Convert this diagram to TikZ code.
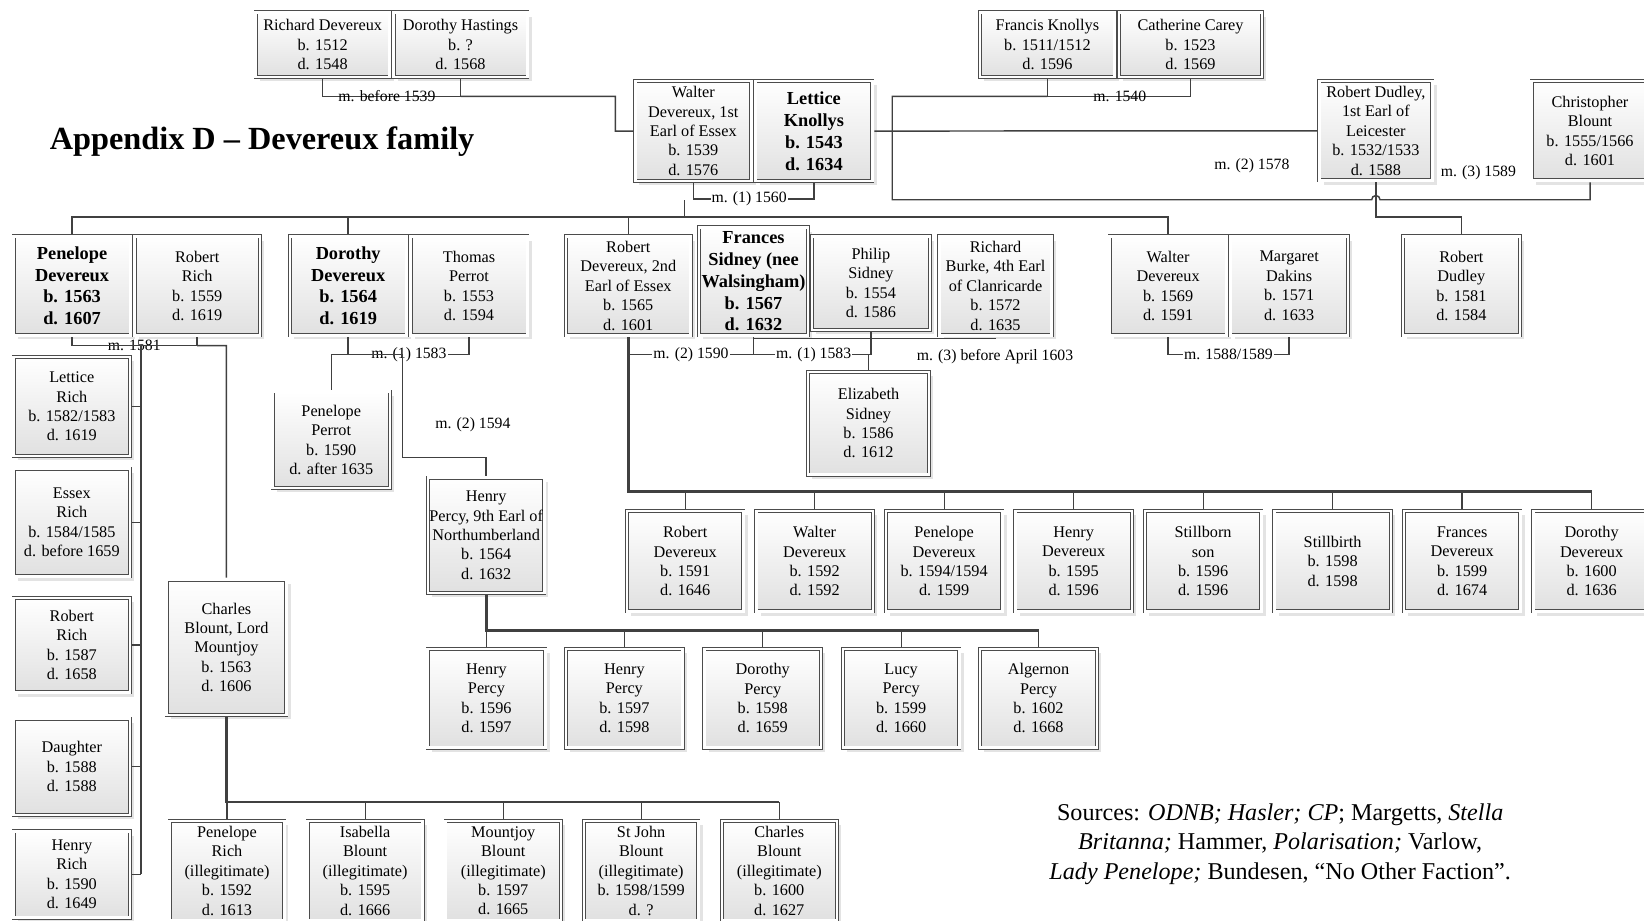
\documentclass[tikz,border=0pt]{standalone}
\usepackage{fontspec}
\setmainfont{Liberation Serif}
\usetikzlibrary{shadows}
\tikzset{
  pbox/.style={draw=black!70, line width=0.7pt, double=white, double distance=2.4pt,
    top color=white, bottom color=black!12, inner sep=0pt, outer sep=1.9pt, align=center,
    font=\fontsize{15.5}{18.5}\selectfont,
    drop shadow={shadow xshift=4pt, shadow yshift=-4pt, fill=black!22, opacity=0.5}},
  bbox/.style={pbox, font=\bfseries\fontsize{17.5}{20.8}\selectfont},
  conn/.style={draw=black!75, line width=1.4pt},
  droplink/.style={draw=black!75, line width=1.2pt},
  busline/.style={draw=black!75, line width=2.6pt},
  mlab/.style={font=\fontsize{15}{18}\selectfont, inner sep=1pt},
  wlab/.style={mlab, fill=white},
}
\newcommand\fbx[7][pbox]{\node[#1, minimum width={#5-#3-3.8}, minimum height={#6-#4-3.8}] (#2) at ({(#3+#5)/2},{(#4+#6)/2}) {#7};}
\begin{document}
\begin{tikzpicture}[x=1pt,y=-1pt]
\path[use as bounding box] (0,0) rectangle (1568,878);
\clip (0,0) rectangle (1568,878);

\node[font=\bfseries\fontsize{30.8}{36}\selectfont, anchor=base, inner sep=0pt] (title) at (250,143) {Appendix D – Devereux family};

% top generation
\fbx{rd}{242}{10}{373.5}{75.5}{Richard Devereux\\b. 1512\\d. 1548}
\fbx{dh}{373.5}{10}{505}{75.5}{Dorothy Hastings\\b. ?\\d. 1568}
\fbx{fk}{933}{10}{1065}{75.5}{Francis Knollys\\b. 1511/1512\\d. 1596}
\fbx{cc}{1065.5}{10}{1205.5}{75.5}{Catherine Carey\\b. 1523\\d. 1569}
\fbx{wd}{604}{75.5}{718.5}{174.5}{Walter\\Devereux, 1st\\Earl of Essex\\b. 1539\\d. 1576}
\fbx[bbox]{lk}{718.5}{75.5}{834}{174.5}{Lettice\\Knollys\\b. 1543\\d. 1634}
\fbx{rdl}{1256.5}{75.5}{1368}{174}{Robert Dudley,\\1st Earl of\\Leicester\\b. 1532/1533\\d. 1588}
\fbx{cb}{1459}{75.5}{1574}{174}{Christopher\\Blount\\b. 1555/1566\\d. 1601}

% second row
\fbx[bbox]{pd}{11}{223.5}{126.5}{321.7}{Penelope\\Devereux\\b. 1563\\d. 1607}
\fbx{rr}{126.5}{223.5}{249.7}{321.7}{Robert\\Rich\\b. 1559\\d. 1619}
\fbx[bbox]{dd}{274.5}{223.5}{389.7}{321.7}{Dorothy\\Devereux\\b. 1564\\d. 1619}
\fbx{tp}{389.7}{223.5}{505}{321.7}{Thomas\\Perrot\\b. 1553\\d. 1594}
\fbx{rde}{538}{223.5}{660.5}{321.7}{Robert\\Devereux, 2nd\\Earl of Essex\\b. 1565\\d. 1601}
\fbx[bbox]{fs}{664.8}{215}{772.6}{321.7}{Frances\\Sidney (nee\\Walsingham)\\b. 1567\\d. 1632}
\fbx{ps}{772.6}{223.5}{888.7}{316.6}{Philip\\Sidney\\b. 1554\\d. 1586}
\fbx{rb}{894}{223.5}{1005}{321.7}{Richard\\Burke, 4th Earl\\of Clanricarde\\b. 1572\\d. 1635}
\fbx{wb}{1056.5}{223.5}{1171.7}{321.7}{Walter\\Devereux\\b. 1569\\d. 1591}
\fbx{md}{1171.7}{223.5}{1287.4}{321.7}{Margaret\\Dakins\\b. 1571\\d. 1633}
\fbx{rdc}{1336}{223.5}{1451.6}{321.7}{Robert\\Dudley\\b. 1581\\d. 1584}

% Rich children
\fbx{lr}{11}{338.6}{126}{437}{Lettice\\Rich\\b. 1582/1583\\d. 1619}
\fbx{er}{11}{445}{126}{551.6}{Essex\\Rich\\b. 1584/1585\\d. before 1659}
\fbx{rrc}{11}{568.4}{126}{662.2}{Robert\\Rich\\b. 1587\\d. 1658}
\fbx{dau}{11}{683.5}{126}{779}{Daughter\\b. 1588\\d. 1588}
\fbx{hr}{11}{791}{126}{877}{Henry\\Rich\\b. 1590\\d. 1649}

\fbx{pp}{258.2}{371.5}{373.7}{467.5}{Penelope\\Perrot\\b. 1590\\d. after 1635}
\fbx{hp9}{406.4}{453.7}{521}{567.5}{Henry\\Percy, 9th Earl of\\Northumberland\\b. 1564\\d. 1632}
\fbx{es}{768.7}{352.9}{888}{454.6}{Elizabeth\\Sidney\\b. 1586\\d. 1612}
\fbx{cbl}{157}{551}{275}{684}{Charles\\Blount, Lord\\Mountjoy\\b. 1563\\d. 1606}

% Essex children
\fbx{c1}{596}{485.7}{711}{585}{Robert\\Devereux\\b. 1591\\d. 1646}
\fbx{c2}{719.5}{485.7}{834.5}{585}{Walter\\Devereux\\b. 1592\\d. 1592}
\fbx{c3}{843}{485.7}{958}{585}{Penelope\\Devereux\\b. 1594/1594\\d. 1599}
\fbx{c4}{966.5}{485.7}{1081.5}{585}{Henry\\Devereux\\b. 1595\\d. 1596}
\fbx{c5}{1090}{485.7}{1205}{585}{Stillborn\\son\\b. 1596\\d. 1596}
\fbx{c6}{1213.5}{485.7}{1328.5}{585}{Stillbirth\\b. 1598\\d. 1598}
\fbx{c7}{1337}{485.7}{1452}{585}{Frances\\Devereux\\b. 1599\\d. 1674}
\fbx{c8}{1460.5}{485.7}{1575.5}{585}{Dorothy\\Devereux\\b. 1600\\d. 1636}

% Percy children
\fbx{p1}{406}{617}{522}{715}{Henry\\Percy\\b. 1596\\d. 1597}
\fbx{p2}{538}{617}{653}{715}{Henry\\Percy\\b. 1597\\d. 1598}
\fbx{p3}{670}{617}{785}{715}{Dorothy\\Percy\\b. 1598\\d. 1659}
\fbx{p4}{802}{617}{917}{715}{Lucy\\Percy\\b. 1599\\d. 1660}
\fbx{p5}{933}{617}{1048}{715}{Algernon\\Percy\\b. 1602\\d. 1668}

% Blount children
\fbx{b1}{160}{781}{273}{880}{Penelope\\Rich\\(illegitimate)\\b. 1592\\d. 1613}
\fbx{b2}{291.5}{781}{405}{880}{Isabella\\Blount\\(illegitimate)\\b. 1595\\d. 1666}
\fbx{b3}{423}{781}{537}{880}{Mountjoy\\Blount\\(illegitimate)\\b. 1597\\d. 1665}
\fbx{b4}{555}{781}{668}{880}{St John\\Blount\\(illegitimate)\\b. 1598/1599\\d. ?}
\fbx{b5}{686.5}{781}{800}{880}{Charles\\Blount\\(illegitimate)\\b. 1600\\d. 1627}

% label behind struck line
\node[wlab] (l1581) at (128,329.7) {m. 1581};

% connectors
\draw[conn] (rd.south) -- ++(0,16.5) -| (dh.south);
\draw[conn] (dh.south) ++(0,16.5) -- (587,92) |- (wd.west);
\draw[conn] (wd.south) -- ++(0,15.5) -| (lk.south);
\coordinate (busjoin) at (653,191);
\draw[conn] (busjoin) -- (busjoin |- 0,207);
\draw[conn] (pd.north) -- (pd.north |- 0,207) -- (wb.north |- 0,207) -- (wb.north);
\draw[conn] (dd.north) -- (dd.north |- 0,207);
\draw[conn] (rde.north) -- (rde.north |- 0,207);

\draw[conn] (fk.south) -- ++(0,16.5) -| (cc.south);
\draw[conn] (fk.south) ++(0,16.5) -- (851,92) -- (851,190.5) -- (1308.25,190.5)
  arc[start angle=180, end angle=360, radius=4] -- (cb.south |- 0,190.5) -- (cb.south);
\draw[conn] (lk.east) -- (rdl.west);
\draw[conn] (rdl.south) -- (rdl.south |- 0,207) -| (rdc.north);

\draw[conn] (pd.south) -- ++(0,8) -| (rr.south);
\draw[conn] (rr.south) ++(0,8) -- (216,329.7) -- (cbl.north);
\coordinate (rtop) at (134.5,329.7);
\draw[conn] (rtop) -- (rtop |- hr.east);
\foreach \n in {lr,er,rrc,dau,hr} \draw[conn] (\n.east) -- (\n.east -| rtop);

\draw[busline] (cbl.south) |- (b5.north |- 0,765);
\foreach \n in {b1,b2,b3,b4,b5} \draw[droplink] (\n.north) -- (\n.north |- 0,765);

\draw[busline] (rde.south) |- (c8.north |- 0,469);
\foreach \n in {c1,c2,c3,c4,c5,c6,c7,c8} \draw[droplink] (\n.north) -- (\n.north |- 0,469);
\draw[conn] (rde.south) -- ++(0,16.3) -| (fs.south);
\draw[conn] (fs.south) ++(0,16.3) -| (ps.south);
\draw[conn] (ps.south) -- ++(0,21.4) -| (es.north);
\draw[conn] (fs.south |- 0,323) -- (rb.south |- 0,323);

\draw[busline] (hp9.south) |- (p5.north |- 0,601);
\foreach \n in {p1,p2,p3,p4,p5} \draw[droplink] (\n.north) -- (\n.north |- 0,601);

\draw[conn] (dd.south) -- ++(0,16.3) -| (tp.south);
\node[wlab] (l1583a) at (390,338) {m. (1) 1583};
\draw[conn] (pp.north) |- (384,338) -- (384,436.5) -| (hp9.north);

\draw[conn] (wb.south) -- ++(0,16.3) -| (md.south);

% labels with gaps
\node[wlab] (l1560) at (714.5,190) {m. (1) 1560};
\node[wlab] (l1590) at (659,338) {m. (2) 1590};
\node[wlab] (l1583b) at (776,338) {m. (1) 1583};
\node[wlab] (l1588) at (1171.6,338) {m. 1588/1589};

% plain labels
\node[mlab] (l1539) at (369,92) {m. before 1539};
\node[mlab] (l1540) at (1068,92) {m. 1540};
\node[mlab] (l1578) at (1194,158) {m. (2) 1578};
\node[mlab] (l1589) at (1410,165) {m. (3) 1589};
\node[mlab] (l1594) at (451,404.7) {m. (2) 1594};
\node[mlab] (l1603) at (949,340) {m. (3) before April 1603};

\node[align=center, font=\fontsize{23}{28}\selectfont, inner sep=0pt] (src) at (1221,805)
 {Sources: \textit{ODNB; Hasler; CP}; Margetts, \textit{Stella}\\\textit{Britanna;} Hammer, \textit{Polarisation;} Varlow,\\\textit{Lady Penelope;} Bundesen, “No Other Faction”.};
\end{tikzpicture}
\end{document}
